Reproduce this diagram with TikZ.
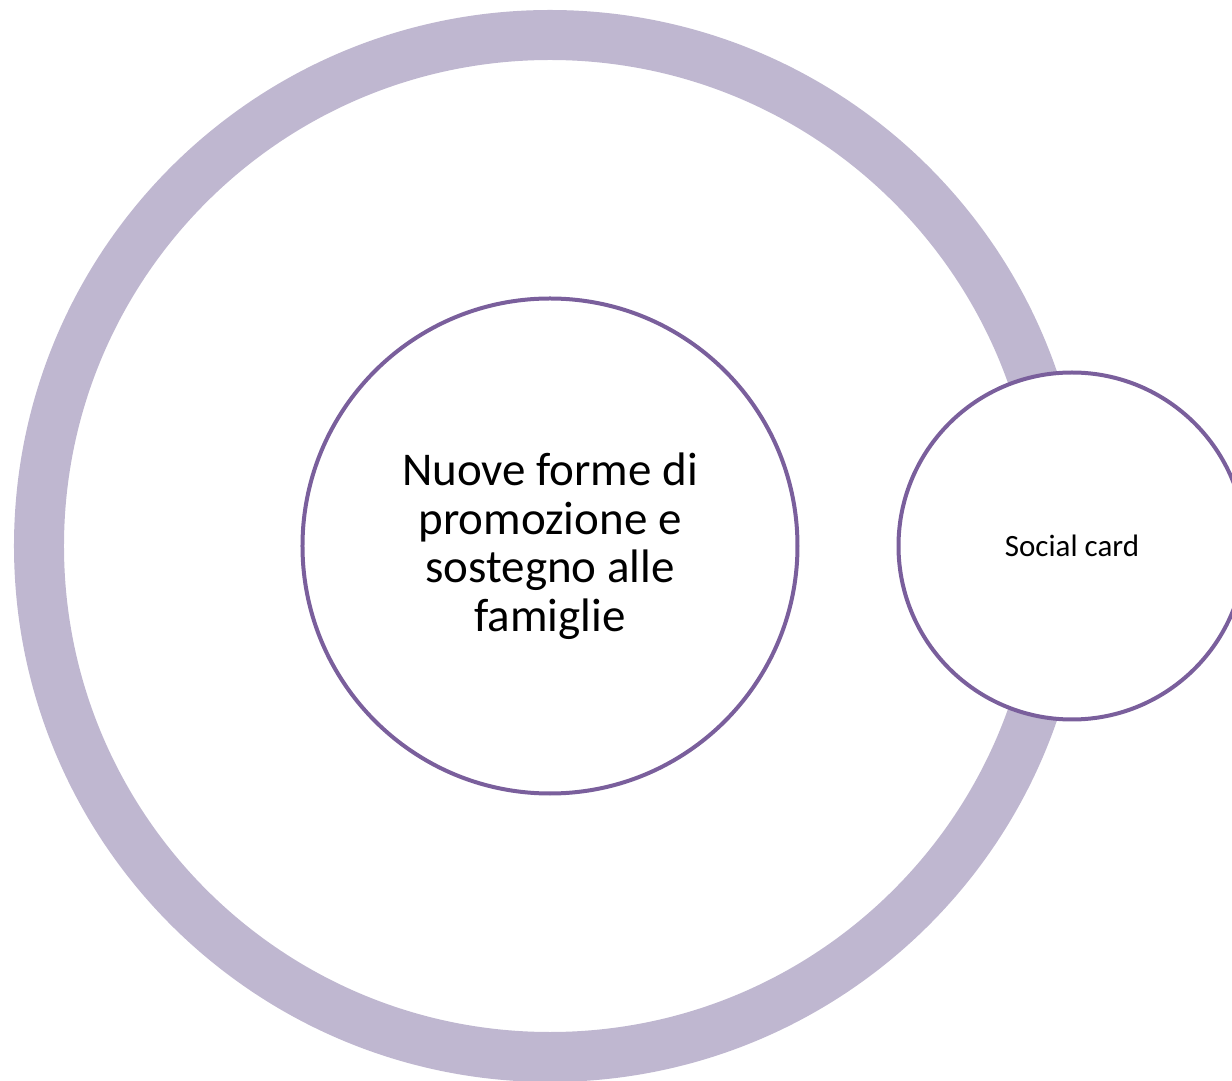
\documentclass[tikz,border=0pt]{standalone}
\usepackage{fontspec}
\setmainfont{Carlito}
\definecolor{ringlila}{HTML}{BFB7D0}
\definecolor{viola}{HTML}{7A5F9C}

\begin{document}
\begin{tikzpicture}[x=1pt, y=1pt, node distance=522pt]
 \tikzstyle{ring}=[circle,draw=ringlila,line width=50pt,minimum size=1022pt]
 \tikzstyle{state}=[circle,draw=viola,line width=4pt,fill=white,align=center,inner sep=0pt]

\useasboundingbox (-550,-535) rectangle (682,546);
\clip (-550,-535) rectangle (682,546);

\node[ring]                                         (R) at (0,0)     {};
\node[state, minimum size=495pt,
      font=\fontsize{47}{48.5}\selectfont]          (A) at (R.center) {Nuove forme di\\promozione e\\sostegno alle\\famiglie};
\node[state, minimum size=347pt,
      font=\fontsize{31}{36}\selectfont]            (B) [right of=A]  {Social card};
\end{tikzpicture}
\end{document}
